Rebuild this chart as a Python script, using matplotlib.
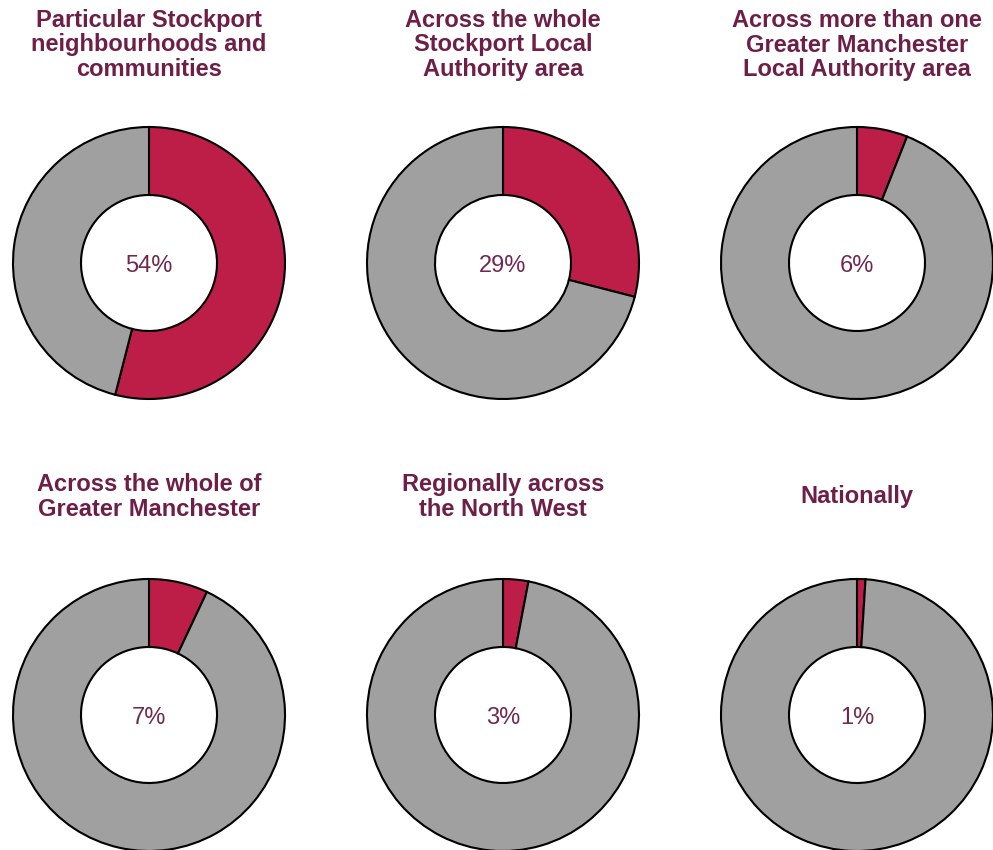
import matplotlib
matplotlib.use("Agg")
import matplotlib.pyplot as plt

titles = [
    "Particular Stockport\nneighbourhoods and\ncommunities",
    "Across the whole\nStockport Local\nAuthority area",
    "Across more than one\nGreater Manchester\nLocal Authority area",
    "Across the whole of\nGreater Manchester",
    "Regionally across\nthe North West",
    "Nationally",
]
values = [54, 29, 6, 7, 3, 1]

W, H = 993, 850
col_x = [149, 503, 857]
row_y = [263, 715]
R = 136

red = "#BC1E47"
grey = "#A0A0A0"
title_col = "#6D1F47"
label_col = "#70284F"

plt.rcParams['font.family'] = ['Liberation Sans', 'DejaVu Sans']

fig = plt.figure(figsize=(W / 100, H / 100), dpi=100)
fig.patch.set_facecolor("white")

for i, (t, v) in enumerate(zip(titles, values)):
    cx = col_x[i % 3]
    cy = row_y[i // 3]
    ax = fig.add_axes([(cx - R) / W, (H - cy - R) / H, 2 * R / W, 2 * R / H])
    wedges, _ = ax.pie([v, 100 - v], colors=[red, grey], startangle=90,
                       counterclock=False, radius=1,
                       wedgeprops=dict(width=0.5, edgecolor="black", linewidth=1.5))
    for w in wedges:
        w.set_clip_on(False)
    ax.set_xlim(-1, 1)
    ax.set_ylim(-1, 1)
    ax.set_aspect("equal")
    ax.axis("off")
    ax.text(0, -0.02, f"{v}%", ha="center", va="center", fontsize=17, color=label_col)
    fig.text(cx / W, 1 - (cy - 218) / H, t, ha="center", va="center",
             fontsize=17, fontweight="bold", color=title_col, linespacing=1.08)

fig.savefig("out.png", dpi=100, facecolor="white")
